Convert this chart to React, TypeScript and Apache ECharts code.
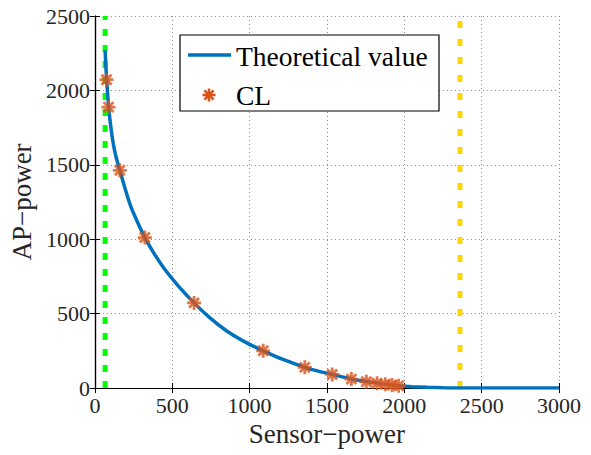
import React, { useEffect, useRef } from "react";
import * as echarts from "echarts";

const xTicks = [0, 500, 1000, 1500, 2000, 2500, 3000];
const yTicks = [0, 500, 1000, 1500, 2000, 2500];

const theoryX = [66, 70, 75, 80, 88, 100, 115, 135, 161, 195, 230, 275, 323, 385, 450, 540, 641, 740, 850, 960, 1088, 1220, 1357, 1450, 1534, 1600, 1658, 1755, 1824, 1877, 1921, 1963, 2050, 2150, 2250, 2360, 3000];
const theoryY = [2270, 2180, 2085, 2010, 1895, 1780, 1665, 1560, 1463, 1340, 1225, 1115, 1011, 900, 800, 685, 572, 475, 385, 315, 250, 190, 139, 112, 91, 75, 61, 44, 33, 26, 20, 15, 9, 5, 2, 0, 0];

const clX = [75, 88, 161, 323, 641, 1088, 1357, 1534, 1658, 1755, 1824, 1877, 1921, 1963];
const clY = [2072, 1888, 1463, 1011, 572, 250, 139, 91, 60, 42, 32, 25, 20, 15];

const greenX = 66;
const yellowX = 2360;

const seriesNames = ["Theoretical value", "CL"];

const FONT = "Liberation Serif";
const BLUE = "#0072BD";
const ORANGE = "#D95319";
const STAR = "path://M0,-10L0,10M-10,0L10,0M-7.07,-7.07L7.07,7.07M-7.07,7.07L7.07,-7.07";

export default function App() {
  const ref = useRef<HTMLDivElement>(null);
  useEffect(() => {
    const chart = echarts.init(ref.current!, null, { renderer: "svg" });
    const axisCommon = {
      type: "value",
      min: 0,
      axisLine: { show: true, lineStyle: { color: "#000", width: 1.2 } },
      axisTick: { show: true, inside: true, length: 5, lineStyle: { color: "#000" } },
      splitLine: { show: false },
    };
    const legendX = 180, legendY = 35, legendW = 259, legendH = 76;
    const sx = 209, sy = 95, r = 6.5, d = r * 0.707;
    chart.setOption({
      animation: false,
      backgroundColor: "#fff",
      grid: { left: 94, top: 16, right: 32, bottom: 67, containLabel: false },
      xAxis: [
        {
          ...axisCommon,
          max: 3000,
          interval: 500,
          name: "Sensor\u2212power",
          nameLocation: "middle",
          nameGap: 30,
          nameTextStyle: { fontFamily: FONT, fontSize: 27, color: "#262626" },
          axisLabel: {
            fontFamily: FONT, fontSize: 22, color: "#262626", margin: 6,
            formatter: (v: number) => (xTicks.includes(v) ? String(v) : ""),
          },
          splitLine: { show: true, lineStyle: { color: "#888", type: [1, 3], width: 1 } },
        },
        {
          ...axisCommon,
          position: "top",
          max: 3000,
          interval: 500,
          axisLabel: { show: false },
        },
      ],
      yAxis: [
        {
          ...axisCommon,
          max: 2500,
          interval: 500,
          name: "AP\u2212power",
          nameLocation: "middle",
          nameGap: 56,
          nameTextStyle: { fontFamily: FONT, fontSize: 27, color: "#262626" },
          axisLabel: {
            fontFamily: FONT, fontSize: 22, color: "#262626", margin: 5,
            formatter: (v: number) => (yTicks.includes(v) ? String(v) : ""),
          },
          splitLine: { show: true, lineStyle: { color: "#888", type: [1, 3], width: 1 } },
        },
        {
          ...axisCommon,
          position: "right",
          max: 2500,
          interval: 500,
          axisLabel: { show: false },
        },
      ],
      series: [
        {
          name: "green",
          type: "line",
          data: [[greenX, 0], [greenX, 2500]],
          showSymbol: false,
          lineStyle: { color: "#00FF00", width: 5, type: [7, 9] },
          silent: true,
          z: 2,
        },
        {
          name: "yellow",
          type: "line",
          data: [[yellowX, 0], [yellowX, 2500]],
          showSymbol: false,
          lineStyle: { color: "#FFD700", width: 5, type: [7, 11] },
          silent: true,
          z: 2,
        },
        {
          name: seriesNames[0],
          type: "line",
          data: theoryX.map((x, i) => [x, theoryY[i]]),
          showSymbol: false,
          smooth: 0.2,
          lineStyle: { color: BLUE, width: 3.5 },
          z: 3,
        },
        {
          name: seriesNames[1],
          type: "scatter",
          data: clX.map((x, i) => [x, clY[i]]),
          symbol: STAR,
          symbolSize: 14,
          itemStyle: { color: ORANGE, borderColor: ORANGE, borderWidth: 2.8 },
          z: 4,
        },
      ],
      graphic: [
        {
          type: "rect",
          shape: { x: legendX, y: legendY, width: legendW, height: legendH },
          style: { fill: "#fff", stroke: "#000", lineWidth: 1.2 },
          z: 100,
        },
        {
          type: "line",
          shape: { x1: 188, y1: 55, x2: 231, y2: 55 },
          style: { stroke: BLUE, lineWidth: 3.5 },
          z: 101,
        },
        {
          type: "text",
          x: 236, y: 56,
          style: { text: seriesNames[0], fontFamily: FONT, fontSize: 27.5, fill: "#000", verticalAlign: "middle", align: "left" },
          z: 101,
        },
        { type: "line", shape: { x1: sx, y1: sy - r, x2: sx, y2: sy + r }, style: { stroke: ORANGE, lineWidth: 2.6 }, z: 101 },
        { type: "line", shape: { x1: sx - r, y1: sy, x2: sx + r, y2: sy }, style: { stroke: ORANGE, lineWidth: 2.6 }, z: 101 },
        { type: "line", shape: { x1: sx - d, y1: sy - d, x2: sx + d, y2: sy + d }, style: { stroke: ORANGE, lineWidth: 2.6 }, z: 101 },
        { type: "line", shape: { x1: sx - d, y1: sy + d, x2: sx + d, y2: sy - d }, style: { stroke: ORANGE, lineWidth: 2.6 }, z: 101 },
        {
          type: "text",
          x: 236, y: 95,
          style: { text: seriesNames[1], fontFamily: FONT, fontSize: 27.5, fill: "#000", verticalAlign: "middle", align: "left" },
          z: 101,
        },
      ],
    });
    return () => chart.dispose();
  }, []);
  return <div ref={ref} style={{ width: 591, height: 455, position: "absolute", left: 0, top: 0 }} />;
}
